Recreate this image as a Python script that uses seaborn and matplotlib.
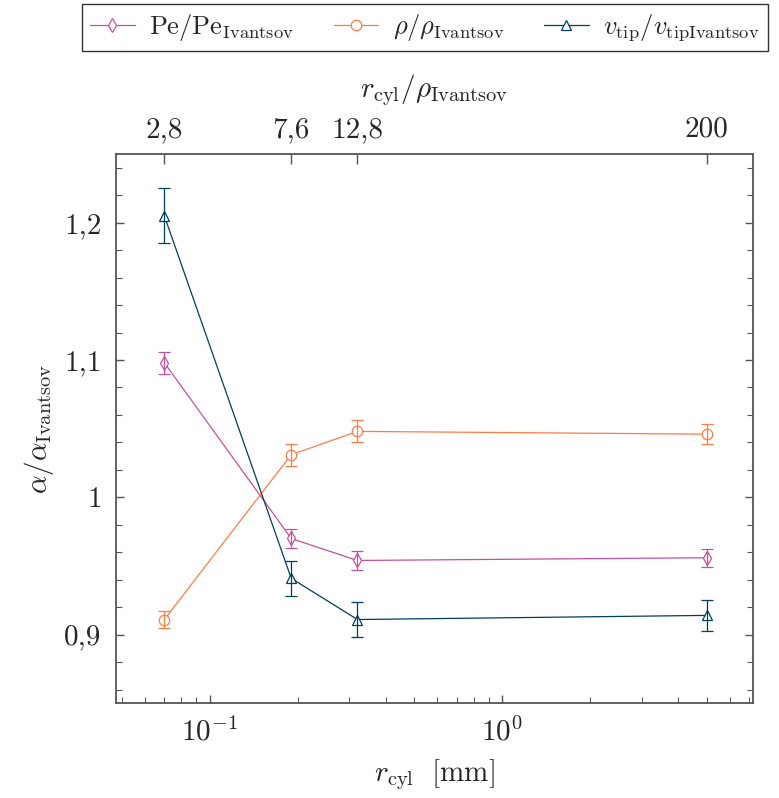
import numpy as np
import pandas as pd
import matplotlib
matplotlib.use('Agg')
import matplotlib.pyplot as plt
import matplotlib.ticker as mticker
import seaborn as sns

# r_cyl in mm
r_cyl = [0.07, 0.19, 0.32, 5.0]
top_labels = ['2,8', '7,6', '12,8', '200']

pe_ratio = [1.098, 0.970, 0.954, 0.956]
pe_err = [0.008, 0.007, 0.007, 0.0065]
rho_ratio = [0.911, 1.031, 1.048, 1.046]
rho_err = [0.006, 0.008, 0.008, 0.0075]
vtip_ratio = [1.205, 0.941, 0.911, 0.914]
vtip_err = [0.020, 0.0127, 0.0125, 0.0115]

y_ticks = [0.9, 1.0, 1.1, 1.2]
y_ticklabels = ['0,9', '1', '1,1', '1,2']

sns.set_style('ticks')
plt.rcParams['font.family'] = 'serif'
plt.rcParams['font.serif'] = ['cmr10', 'DejaVu Serif']
plt.rcParams['mathtext.fontset'] = 'cm'
plt.rcParams['axes.unicode_minus'] = False
plt.rcParams['axes.formatter.use_mathtext'] = True

gray = '#555555'
series = [
    (r'$\mathrm{Pe}/\mathrm{Pe}_{\mathrm{Ivantsov}}$', pe_ratio, pe_err, '#c8509a', 'd'),
    (r'$\rho/\rho_{\mathrm{Ivantsov}}$', rho_ratio, rho_err, '#ff7c43', 'o'),
    (r'$v_{\mathrm{tip}}/v_{\mathrm{tipIvantsov}}$', vtip_ratio, vtip_err, '#003f5c', '^'),
]

fig = plt.figure(figsize=(7.79, 7.98), dpi=100)
ax = fig.add_axes([0.1484, 0.1187, 0.8178, 0.6883])

for label, vals, errs, color, marker in series:
    df = pd.DataFrame({'r': r_cyl, 'v': vals})
    sns.lineplot(data=df, x='r', y='v', ax=ax, color=color, marker=marker,
                 markersize=7.5, markerfacecolor='white', markeredgecolor=color,
                 markeredgewidth=0.9, linewidth=0.9, label=label)
    ax.errorbar(r_cyl, vals, yerr=errs, fmt='none', ecolor=color,
                elinewidth=0.9, capsize=4, capthick=0.9)

ax.set_xscale('log')
ax.set_xlim(0.0477, 7.18)
ax.set_ylim(0.85, 1.25)
ax.set_yticks(y_ticks)
ax.set_yticklabels(y_ticklabels)
ax.yaxis.set_minor_locator(mticker.MultipleLocator(0.02))
ax.xaxis.set_major_locator(mticker.LogLocator(base=10))
ax.xaxis.set_minor_locator(mticker.LogLocator(base=10, subs=np.arange(2, 10)))
ax.xaxis.set_minor_formatter(mticker.NullFormatter())

ax.tick_params(which='both', direction='in', top=False, right=True,
               color=gray, labelsize=21, pad=10)
ax.tick_params(which='major', length=6, width=1)
ax.tick_params(which='minor', length=4, width=0.8)
for s in ax.spines.values():
    s.set_color(gray)
    s.set_linewidth(1.3)

ax.set_xlabel(r'$r_{\mathrm{cyl}}\ \ [\mathrm{mm}]$', fontsize=21, labelpad=8)
ax.set_ylabel(r'$\alpha/\alpha_{\mathrm{Ivantsov}}$', fontsize=21, labelpad=6)

# top axis
ax2 = ax.twiny()
ax2.set_xscale('log')
ax2.set_xlim(ax.get_xlim())
ax2.set_xticks(r_cyl)
ax2.set_xticklabels(top_labels)
ax2.xaxis.set_minor_locator(mticker.NullLocator())
ax2.tick_params(which='major', direction='in', color=gray, length=7, width=1,
                labelsize=21, pad=8)
for s in ax2.spines.values():
    s.set_visible(False)
ax2.set_xlabel(r'$r_{\mathrm{cyl}}/\rho_{\mathrm{Ivantsov}}$', fontsize=21, labelpad=14)

handles, labels = ax.get_legend_handles_labels()
ax.get_legend().remove()
leg = fig.legend(handles, labels, loc='upper left', bbox_to_anchor=(82 / 779, 0.995),
                 ncol=3, fontsize=19, frameon=True, fancybox=False,
                 edgecolor='black', handlelength=1.7, columnspacing=1.5,
                 borderpad=0.3, borderaxespad=0, handletextpad=0.55)
leg.get_frame().set_linewidth(1.0)

fig.savefig('out.png', dpi=100)
